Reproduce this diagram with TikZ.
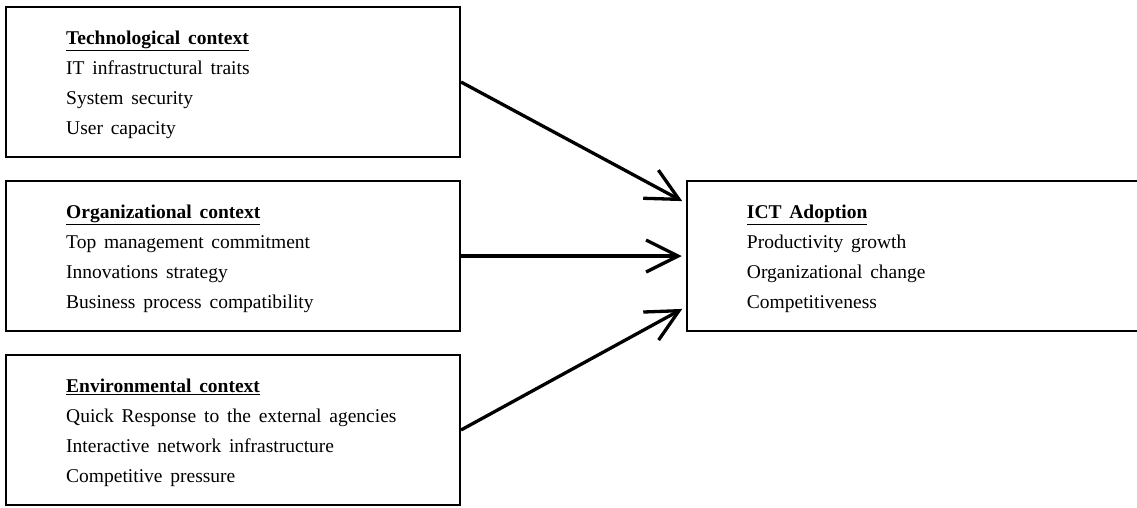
\documentclass[tikz,border=0pt]{standalone}
\usepackage{fontspec}
\setmainfont{Liberation Serif}
\usetikzlibrary{arrows.meta}

\newcommand{\ctxfont}{\fontsize{19.5}{30}\selectfont\spaceskip=0.4em plus 0.1em}
\newcommand{\ctxhead}[1]{\underline{\textbf{#1}}}

\begin{document}
\begin{tikzpicture}[x=1pt,y=-1pt]
        \useasboundingbox (0,0) rectangle (1137,507);
        \begin{scope}[every node/.style={draw,line width=2pt,inner sep=0pt,minimum width=454pt,minimum height=150pt}]
            \node (tech) at (233, 82) {};
            \node (org)  at (233,256) {};
            \node (env)  at (233,430) {};

            \node[line width=2.5pt,minimum width=460pt] (adopt) at (917,256) {};
        \end{scope}

        \begin{scope}[every node/.style={anchor=west,align=left,inner sep=0pt,font=\ctxfont}]
            \node (techtxt) at ([xshift=61pt,yshift=-3pt]tech.west)
                {\ctxhead{Technological context}\\ IT infrastructural traits\\ System security\\ User capacity};
            \node (orgtxt) at ([xshift=61pt,yshift=-3pt]org.west)
                {\ctxhead{Organizational context}\\ Top management commitment\\ Innovations strategy\\ Business process compatibility};
            \node (envtxt) at ([xshift=61pt,yshift=-3pt]env.west)
                {\ctxhead{Environmental context}\\ Quick Response to the external agencies\\ Interactive network infrastructure\\ Competitive pressure};
            \node (adopttxt) at ([xshift=61pt,yshift=-3pt]adopt.west)
                {\ctxhead{ICT Adoption}\\ Productivity growth\\ Organizational change\\ Competitiveness};
        \end{scope}

        \begin{scope}[>={Straight Barb[length=32pt,width=32pt]},
                    every edge/.style={draw,line width=3.3pt,shorten >=4pt}]
            \path [->] (tech.east) edge ([yshift=53pt]adopt.west);
            \path [->] (org.east)  edge (adopt.west);
            \path [->] (env.east)  edge ([yshift=-51pt]adopt.west);
        \end{scope}
    \end{tikzpicture}
\end{document}
